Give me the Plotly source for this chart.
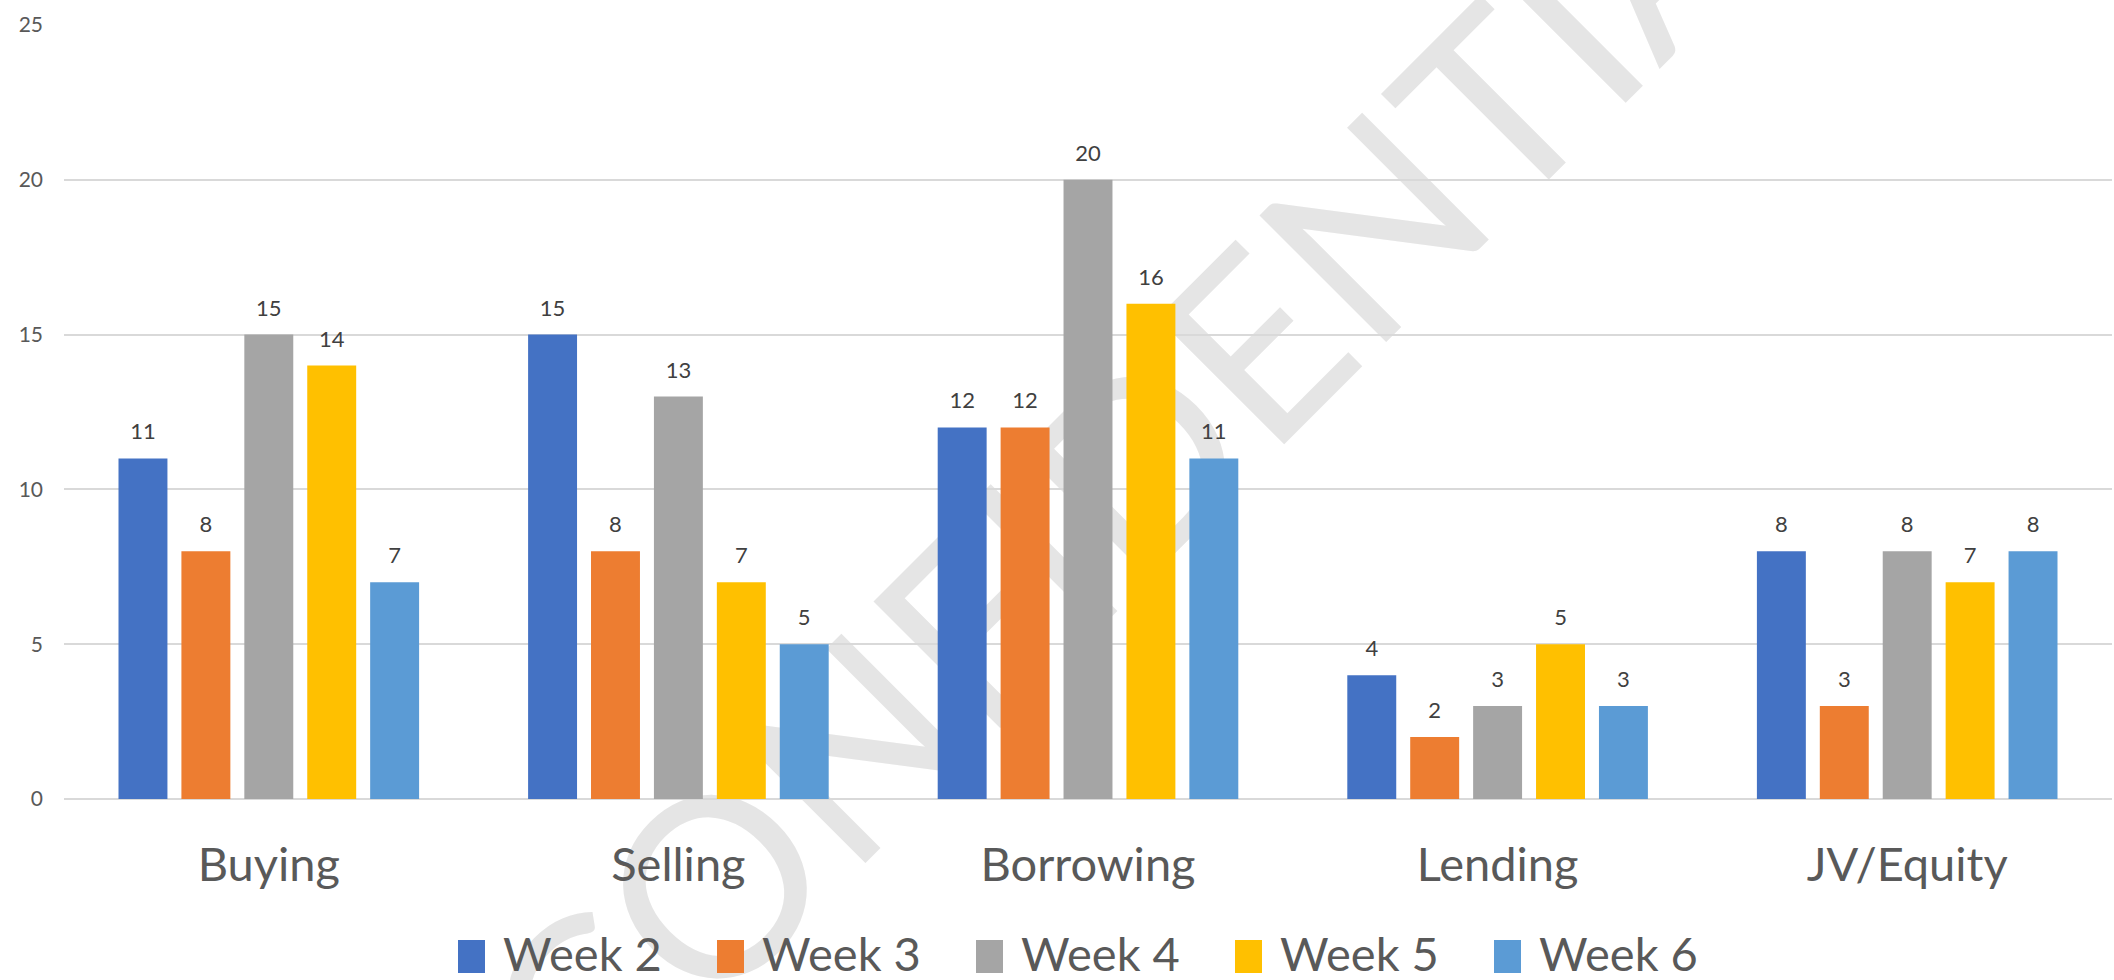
import plotly.graph_objects as go

categories = ["Buying", "Selling", "Borrowing", "Lending", "JV/Equity"]
series_names = ["Week 2", "Week 3", "Week 4", "Week 5", "Week 6"]
week2 = [11, 15, 12, 4, 8]
week3 = [8, 8, 12, 2, 3]
week4 = [15, 13, 20, 3, 8]
week5 = [14, 7, 16, 5, 7]
week6 = [7, 5, 11, 3, 8]
series_values = [week2, week3, week4, week5, week6]
colors = ["#4472C4", "#ED7D31", "#A5A5A5", "#FFC000", "#5B9BD5"]
y_ticks = [0, 5, 10, 15, 20, 25]
watermark = "CONFIDENTIAL"

FONT = "Lato, 'Open Sans', sans-serif"
TXT = "#595959"

W, H = 2114, 980
ML, MR, MT, MB = 64, 2, 25, 181
PW, PH = W - ML - MR, H - MT - MB


def px_x(px):
    return (px - ML) / PW


def px_y(py):
    return (H - MB - py) / PH


fig = go.Figure()
for name, vals, col in zip(series_names, series_values, colors):
    fig.add_trace(go.Bar(
        x=categories, y=vals, name=name,
        marker=dict(color=col, line=dict(width=0)),
        showlegend=False,
    ))

# value labels, grouped like the bars
for name, vals in zip(series_names, series_values):
    fig.add_trace(go.Scatter(
        x=categories, y=vals, name=name, mode="markers+text",
        text=[str(v) for v in vals], textposition="top center",
        textfont=dict(family=FONT, size=22, color="#404040"),
        marker=dict(size=20, color="rgba(0,0,0,0)", opacity=0),
        showlegend=False, hoverinfo="skip", cliponaxis=False,
    ))

fig.update_layout(
    width=W, height=H,
    margin=dict(l=ML, r=MR, t=MT, b=MB, autoexpand=False),
    paper_bgcolor="white", plot_bgcolor="white",
    barmode="group", bargap=0.232, bargroupgap=0.222,
    scattermode="group", scattergap=0.232,
    font=dict(family=FONT, color=TXT),
    showlegend=False,
)
fig.update_xaxes(
    type="category", showgrid=False, showline=False, ticks="", ticklen=0,
    tickfont=dict(family=FONT, size=47, color=TXT), ticklabelstandoff=34,
)
fig.update_yaxes(
    range=[0, 25], tickvals=y_ticks, showgrid=True, gridcolor="#D9D9D9", gridwidth=2,
    zeroline=True, zerolinecolor="#D9D9D9", zerolinewidth=2, showline=False,
    tickfont=dict(family=FONT, size=21, color=TXT), ticks="", ticklabelstandoff=20,
)

# custom legend (larger swatches than the built-in legend)
LEG_X0, LEG_PITCH, SW_W = 458, 259, 27
for i, (name, col) in enumerate(zip(series_names, colors)):
    x0 = LEG_X0 + LEG_PITCH * i
    fig.add_shape(type="rect", xref="paper", yref="paper",
                  x0=px_x(x0), x1=px_x(x0 + SW_W), y0=px_y(973), y1=px_y(940),
                  fillcolor=col, line=dict(width=0), layer="above")
    fig.add_annotation(xref="paper", yref="paper", x=px_x(x0 + 43), y=px_y(953),
                       xanchor="left", yanchor="middle", text=name, showarrow=False,
                       font=dict(family=FONT, size=47, color=TXT))

# watermark behind bars
cx, cy = px_x(1160), px_y(427)
fig.add_shape(
    type="rect", xref="paper", yref="paper",
    x0=cx - 0.001, x1=cx + 0.001, y0=cy - 0.001, y1=cy + 0.001,
    line=dict(width=0), fillcolor="rgba(0,0,0,0)", layer="below",
    label=dict(text=watermark, textangle=-45, textposition="middle center",
               font=dict(family=FONT, size=250, color="#E5E5E5")),
)

fig.write_html(
    "out.html",
    config={"displayModeBar": False},
    post_script="document.body.style.margin='0px';document.body.style.overflow='hidden';",
)
